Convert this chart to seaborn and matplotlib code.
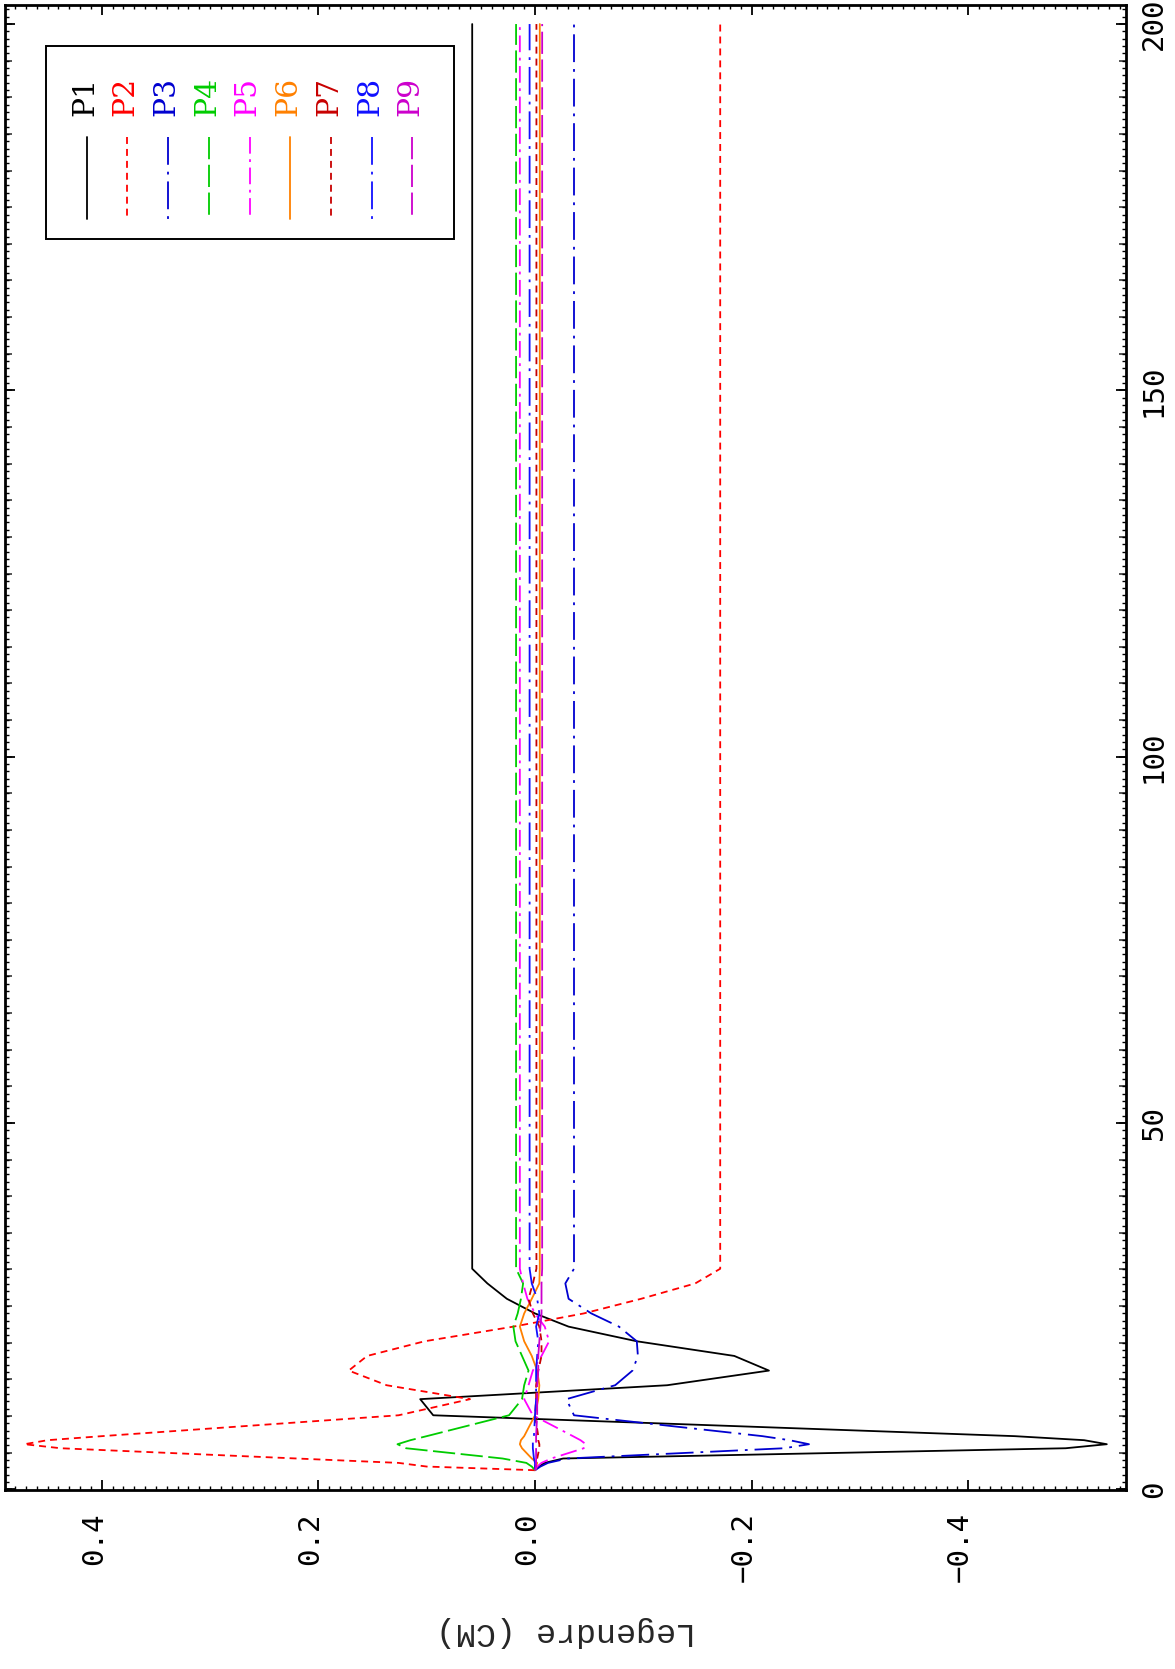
import matplotlib
matplotlib.use("Agg")
import matplotlib.pyplot as plt
import seaborn as sns
from matplotlib.lines import Line2D
from matplotlib.patches import Rectangle
from matplotlib.ticker import MultipleLocator, FixedLocator

# ---------------- data ----------------
steps = [2.6, 3.1, 3.6, 4.2, 5.6, 6.15, 6.7, 7.25, 10.1, 12.3, 14.2, 16.2,
         18.2, 20.2, 22.2, 24.0, 26.0, 28.1, 30.1, 200]

p1 = [0.0, -0.003, -0.009, -0.026, -0.49, -0.528, -0.507, -0.443, 0.094, 0.106,
      -0.122, -0.216, -0.184, -0.094, -0.031, 0.0, 0.026, 0.044, 0.058, 0.058]
p2 = [0.0, 0.10, 0.126, 0.22, 0.438, 0.4715, 0.45, 0.40, 0.126, 0.06,
      0.137, 0.172, 0.155, 0.102, 0.02, -0.045, -0.098, -0.148, -0.171, -0.171]
p3 = [0.0, -0.005, -0.012, -0.03, -0.23, -0.253, -0.235, -0.21, -0.036, -0.029,
      -0.074, -0.090, -0.095, -0.094, -0.0775, -0.052, -0.031, -0.028, -0.036, -0.036]
p4 = [0.0, 0.003, 0.008, 0.03, 0.119, 0.127, 0.115, 0.10, 0.024, 0.012,
      0.010, 0.006, 0.012, 0.018, 0.020, 0.016, 0.013, 0.011, 0.0175, 0.0175]
p5 = [0.0, -0.002, -0.006, -0.015, -0.045, -0.047, -0.042, -0.035, 0.002, 0.010,
      0.006, 0.002, -0.006, -0.013, -0.009, 0.0, 0.007, 0.011, 0.014, 0.014]
p6 = [0.0, -0.001, -0.002, 0.003, 0.012, 0.014, 0.013, 0.010, 0.0, -0.003,
      -0.004, -0.002, 0.003, 0.010, 0.014, 0.010, 0.003, -0.004, -0.0044, -0.0044]
p7 = [0.0, 0.0, -0.001, -0.002, -0.004, -0.004, -0.003, -0.003, 0.0, -0.001,
      -0.001, -0.003, -0.006, -0.006, -0.004, 0.002, 0.006, 0.002, -0.0013, -0.0013]
p8 = [0.0, 0.0, 0.0, 0.001, 0.002, 0.002, 0.002, 0.001, 0.0, -0.001,
      -0.001, -0.001, -0.002, -0.003, -0.001, -0.004, -0.002, 0.003, 0.005, 0.005]
p9 = [0.0, -0.001, -0.001, -0.001, -0.001, -0.001, -0.001, -0.001, -0.002, -0.002,
      -0.002, -0.003, -0.003, -0.004, -0.005, -0.006, -0.006, -0.006, -0.0066, -0.0066]

series_names = ["P1", "P2", "P3", "P4", "P5", "P6", "P7", "P8", "P9"]
series_values = [p1, p2, p3, p4, p5, p6, p7, p8, p9]

value_ticks = [0.4, 0.2, 0.0, -0.2, -0.4]
value_tick_labels = ["0.4", "0.2", "0.0", "\u22120.2", "\u22120.4"]
step_ticks = [0, 50, 100, 150, 200]
step_tick_labels = ["0", "50", "100", "150", "200"]
axis_label = "Legendre (CM)"

# ---------------- styles ----------------
colors = ["#000000", "#ff0000", "#0000d0", "#00cc00", "#ff00ff",
          "#ff8000", "#c80000", "#1010ff", "#cc00cc"]
dash_styles = [None, (5, 3.6), (20, 5, 2, 5), (16, 4),
               (12, 4, 2, 4), None, (5, 3.6), (20, 5, 2, 5), (16, 4)]

sns.set_style("white")
plt.rcParams["lines.scale_dashes"] = False

W, H = 1175, 1669
fig = plt.figure(figsize=(W / 100, H / 100), dpi=100)
ax_l, ax_r, ax_t, ax_b = 5, 1126, 5, 1490
ax = fig.add_axes([ax_l / W, (H - ax_b) / H, (ax_r - ax_l) / W, (ax_b - ax_t) / H])

for name, vals, c, d in zip(series_names, series_values, colors, dash_styles):
    sns.lineplot(x=vals, y=steps, orient="y", sort=False, estimator=None,
                 color=c, lw=1.3, ax=ax)
    ln = ax.lines[-1]
    if d is not None:
        ln.set_dashes(d)

ax.set_xlim(0.4894, -0.5457)
ax.set_ylim(-0.1, 202.6)

for sp in ax.spines.values():
    sp.set_visible(True)
    sp.set_linewidth(2.0)
    sp.set_color("black")

ax.tick_params(axis="both", which="both", direction="in", top=True, bottom=True,
               left=True, right=True, labelleft=False, labelright=True,
               labeltop=False, labelbottom=True, colors="black")
ax.tick_params(axis="both", which="major", length=7, width=1.3)
ax.tick_params(axis="both", which="minor", length=2.8, width=1.0)
ax.tick_params(axis="x", which="major", pad=16)
ax.tick_params(axis="y", which="major", pad=10)

ax.set_xticks(value_ticks, value_tick_labels, rotation=90, ha="right",
              va="baseline", rotation_mode="anchor",
              fontfamily="DejaVu Sans Mono", fontsize=21)
ax.set_yticks(step_ticks, step_tick_labels, rotation=90, ha="center",
              va="top", rotation_mode="anchor",
              fontfamily="DejaVu Sans Mono", fontsize=21)
ax.xaxis.set_minor_locator(MultipleLocator(0.01))
ax.yaxis.set_minor_locator(MultipleLocator(1))

# medium ticks every 5 steps
for side in ("left", "right"):
    sec = ax.secondary_yaxis(side)
    sec.yaxis.set_major_locator(MultipleLocator(5))
    sec.yaxis.set_minor_locator(FixedLocator([]))
    sec.tick_params(axis="y", which="major", direction="in", length=4.8,
                    width=1.1, labelleft=False, labelright=False)
    for sp in sec.spines.values():
        sp.set_visible(False)

ax.set_xlabel(axis_label, fontfamily="Liberation Mono", fontsize=24, rotation=180)
ax.xaxis.label.set_va("center")
ax.xaxis.set_label_coords(0.5, -0.0956)

# ---------------- legend (rotated, drawn by hand) ----------------
def fx(px):
    return (px - ax_l) / (ax_r - ax_l)

def fy(py):
    return 1 - (py - ax_t) / (ax_b - ax_t)

ax.add_patch(Rectangle((fx(45.7), fy(239)), fx(454) - fx(45.7), fy(45.7) - fy(239),
                       transform=ax.transAxes, fill=True, facecolor="white",
                       edgecolor="black", lw=1.4, zorder=5))
spacing = 40.7
for i, (name, c, d) in enumerate(zip(series_names, colors, dash_styles)):
    xl = 86.7 + spacing * i
    ln = Line2D([fx(xl), fx(xl)], [fy(136.7), fy(219.3)], transform=ax.transAxes,
                color=c, lw=1.3, zorder=6)
    if d is not None:
        ln.set_dashes(d)
    ax.add_line(ln)
    ax.text(fx(93 + spacing * i), fy(116), name, transform=ax.transAxes,
            rotation=90, rotation_mode="anchor", ha="left", va="baseline",
            color=c, fontfamily="DejaVu Serif", fontsize=21.5, zorder=6)

fig.savefig("out.png", dpi=100, facecolor="white")
